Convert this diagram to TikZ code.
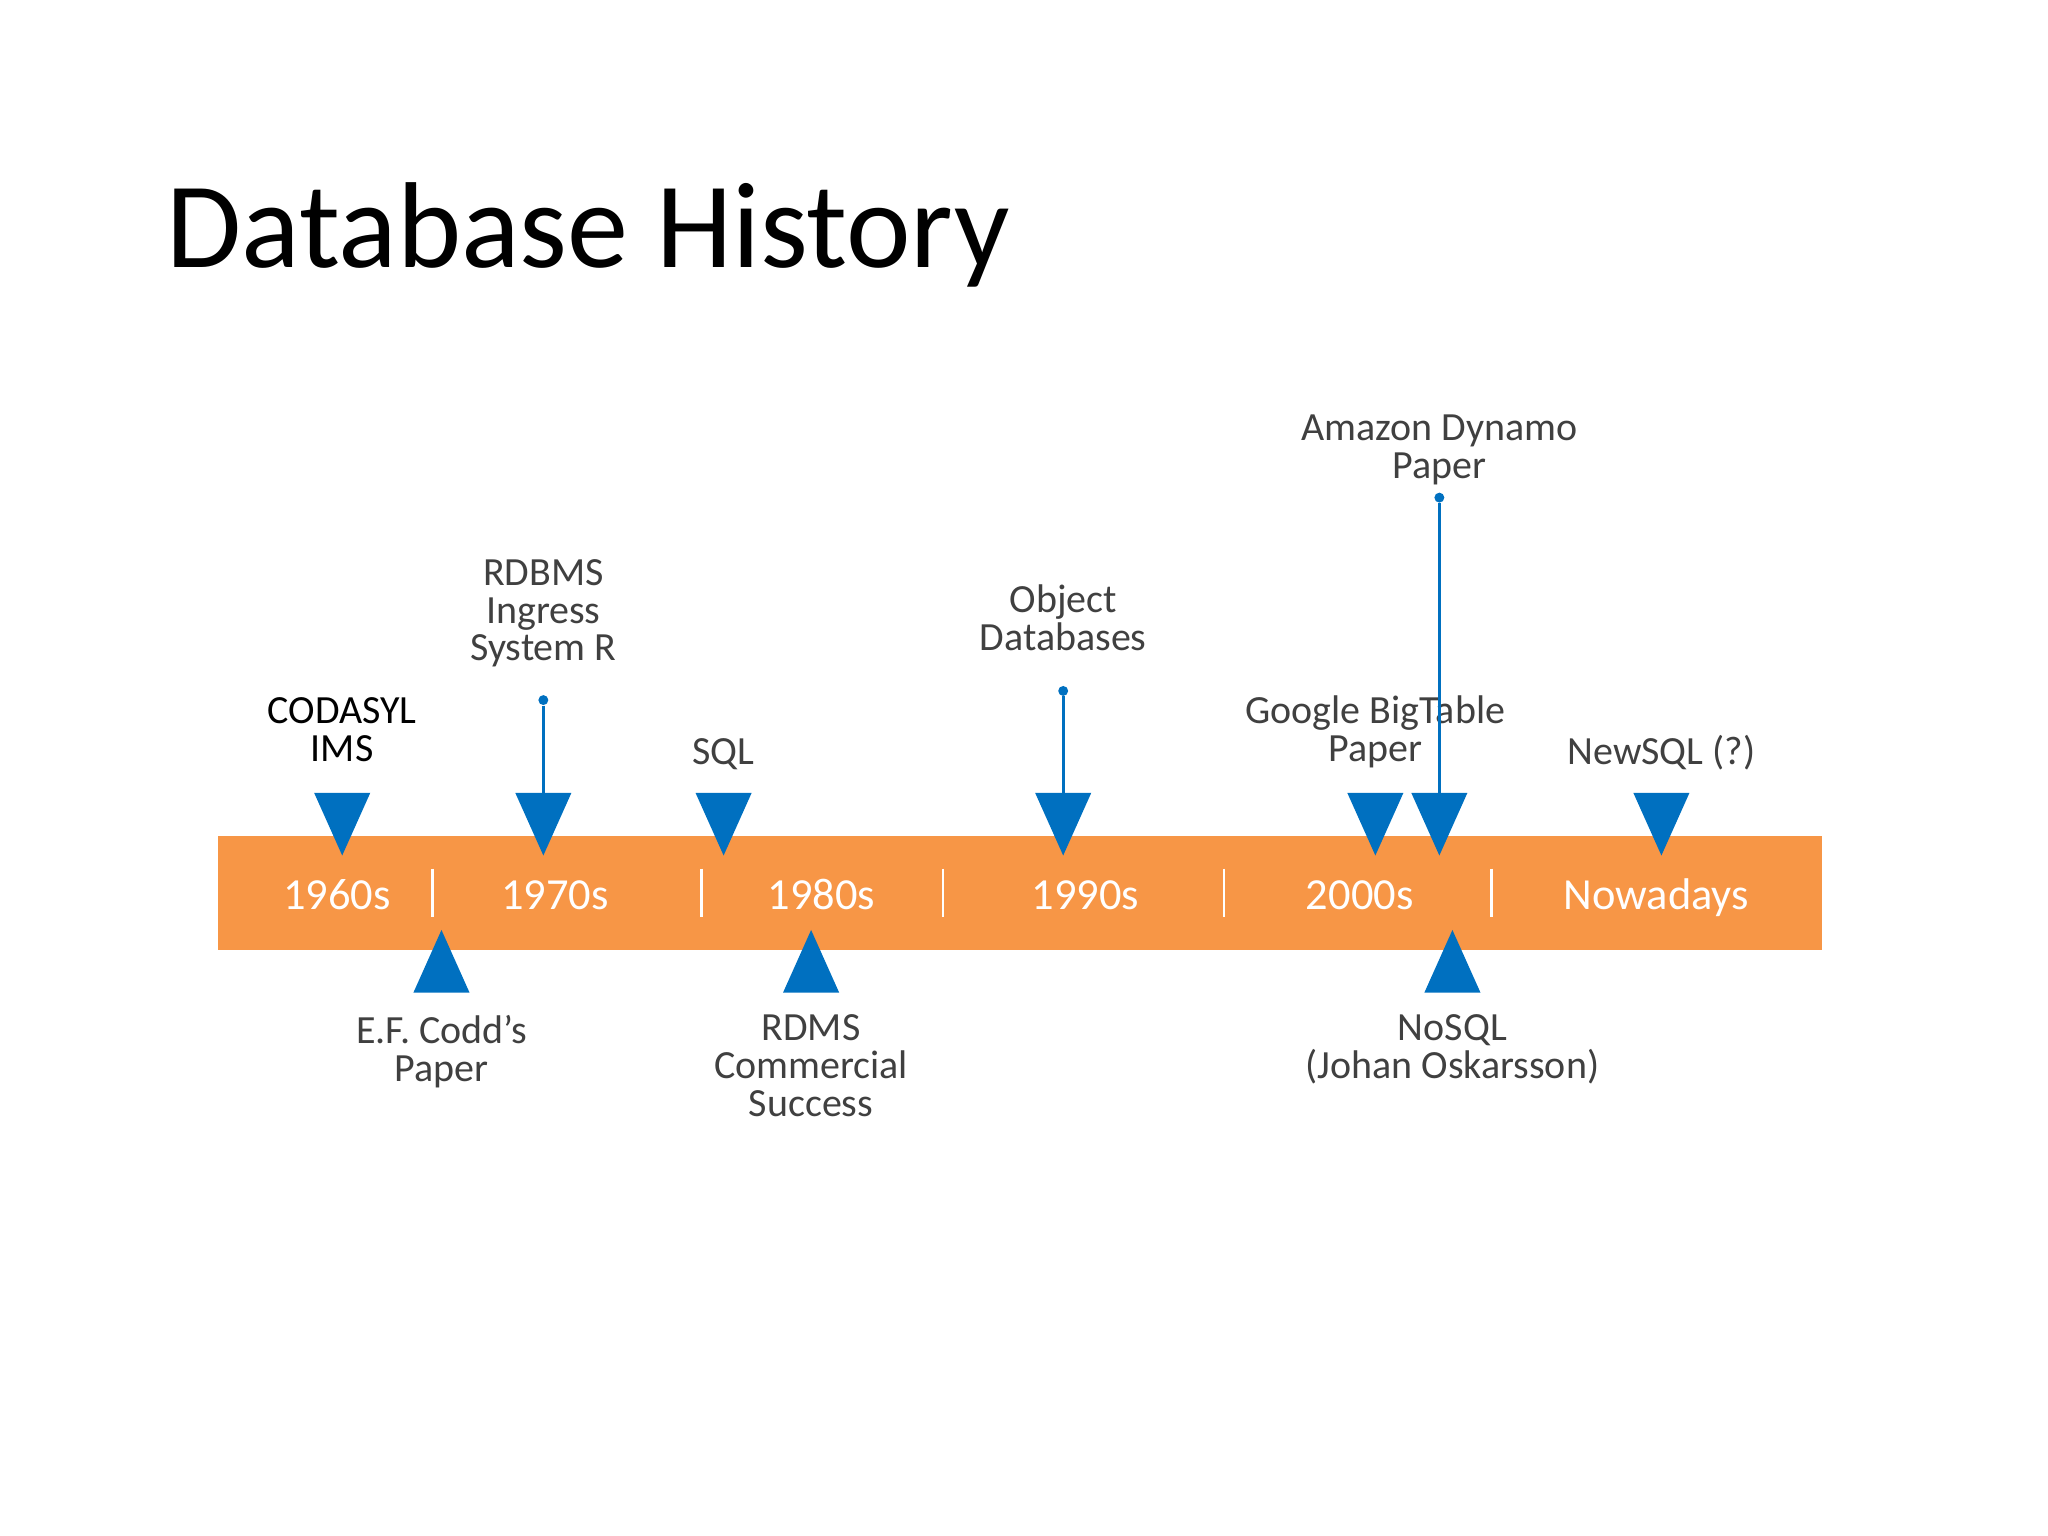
\documentclass[tikz,border=0pt]{standalone}
\usepackage{fontspec}
\setmainfont{Carlito}
\definecolor{tlblue}{HTML}{0070C0}
\definecolor{tlorange}{HTML}{F79646}
\definecolor{tlgray}{HTML}{404040}
\tikzset{
  lbl/.style={text=tlgray, font=\fontsize{15.3}{14.5}\selectfont, align=center, inner sep=0pt, anchor=base},
  dec/.style={text=white, font=\fontsize{17}{20}\selectfont, inner sep=0pt, anchor=base},
  tri/.style={fill=tlblue},
  conn/.style={draw=tlblue, line width=1.3pt},
  pin/.style={circle, fill=tlblue, inner sep=0pt, minimum size=3.8pt},
  sepline/.style={draw=white, line width=1pt}
}
\newcommand\tldown[2]{\fill[tri] ({#1-21.5},607) -- ({#1+21.5},607) -- (#1,655) -- cycle; \coordinate (#2) at (#1,607);}
\newcommand\tlup[2]{\fill[tri] ({#1-21.5},760) -- ({#1+21.5},760) -- (#1,712) -- cycle; \coordinate (#2) at (#1,760);}
\begin{document}
\begin{tikzpicture}[x=0.5pt,y=-0.5pt]
\useasboundingbox (0,0) rectangle (1568,1176);
% title
\node[anchor=base west, inner sep=0pt, font=\fontsize{46.8}{50}\selectfont] (title) at (127,205) {Database History};
% bar
\fill[tlorange] (167,640) rectangle (1395,727);
\foreach \x in {331,537,722,937,1142} \draw[sepline] (\x,665) -- (\x,702);
\node[dec] (d60) at (258,696) {1960s};
\node[dec] (d70) at (425,696) {1970s};
\node[dec] (d80) at (629,696) {1980s};
\node[dec] (d90) at (831,696) {1990s};
\node[dec] (d00) at (1041,696) {2000s};
\node[dec] (dnow) at (1268,696) {Nowadays};
% connectors
\node[pin] (p70) at (416,536) {};
\node[pin] (p90) at (814,529) {};
\node[pin] (pdyn) at (1102,381) {};
\coordinate (e70) at (416,612);
\coordinate (e90) at (814,612);
\coordinate (edyn) at (1102,630);
\draw[conn] (p70) -- (e70);
\draw[conn] (p90) -- (e90);
% labels above (anchor = baseline of last line)
\node[lbl, text=black] (codasyl) at (262,583) {CODASYL\\IMS};
\node[lbl] (rdbms) at (416,506) {RDBMS\\Ingress\\System R};
\node[lbl] (sql) at (554,585) {SQL};
\node[lbl] (objdb) at (814,498) {Object\\Databases};
\node[lbl] (bigtable) at (1053,583) {Google BigTable\\Paper};
\node[lbl] (dynamo) at (1102,366) {Amazon Dynamo\\Paper};
\node[lbl] (newsql) at (1272,585) {NewSQL (?)};
\draw[conn] (pdyn) -- (edyn);
% labels below
\node[lbl] (codd) at (338,828) {E.F. Codd’s\\Paper};
\node[lbl] (rdms) at (621,855) {RDMS\\Commercial\\Success};
\node[lbl] (nosql) at (1112,826) {NoSQL\\(Johan Oskarsson)};
% triangles
\tldown{262}{t60}
\tldown{416}{t70}
\tldown{554}{tsql}
\tldown{814}{t90}
\tldown{1053}{tbig}
\tldown{1102}{tdyn}
\tldown{1272}{tnew}
\tlup{338}{tcodd}
\tlup{621}{trdms}
\tlup{1112}{tnosql}
\end{tikzpicture}
\end{document}
